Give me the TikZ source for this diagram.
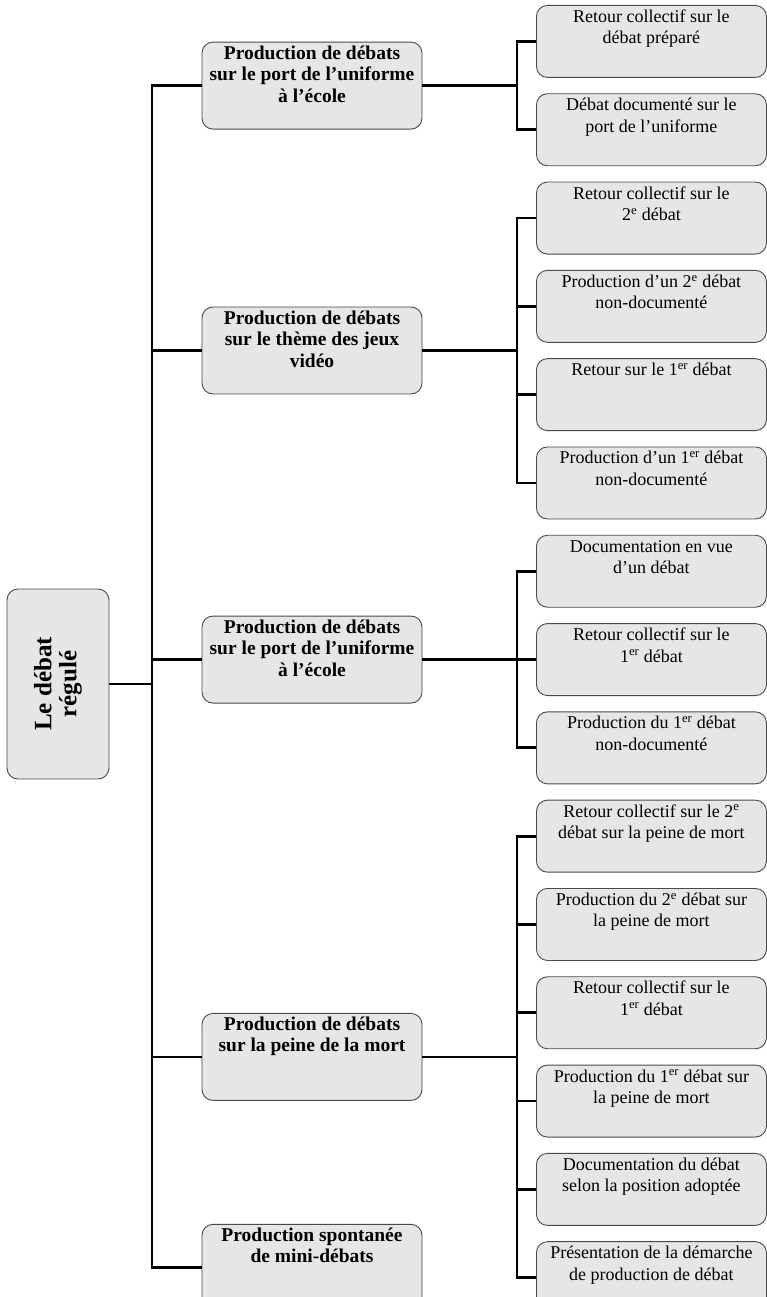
\documentclass[tikz,border=0pt]{standalone}
\usepackage{fontspec}
\setmainfont{Liberation Serif}
\usepackage{xcolor}
\definecolor{boxFill}{HTML}{E6E6E6}
\definecolor{boxEdge}{HTML}{4A4A4A}
\usetikzlibrary{positioning, calc}

% fixed-size text block, lines starting at the top
\newcommand{\topstack}[4]{\parbox[c][#1][t]{#2}{\centering\rule{0pt}{#3}#4}}
\newcommand{\subtext}[1]{\topstack{72pt}{230pt}{17pt}{#1}}
\newcommand{\themetext}[1]{\topstack{87pt}{220pt}{17pt}{#1}}

\begin{document}
\begin{tikzpicture}[
    x=1pt, y=1pt,
    node distance=15.4pt,
    subbox/.style={draw=boxEdge, fill=boxFill, rectangle, rounded corners=11pt, line width=0.9pt, inner sep=0pt, font=\fontsize{18}{21.5}\selectfont},
    themebox/.style={draw=boxEdge, fill=boxFill, rectangle, rounded corners=11pt, line width=0.9pt, inner sep=0pt, font=\bfseries\fontsize{19.5}{21.5}\selectfont},
    rootbox/.style={draw=boxEdge, fill=boxFill, rectangle, rounded corners=11pt, line width=0.9pt, rotate=90, align=center, minimum width=190pt, minimum height=102pt, font=\bfseries\fontsize{25}{25}\selectfont},
    link/.style={line width=2.8pt, draw=black}
]
\useasboundingbox (0,0) rectangle (767,-1297);

\coordinate (trunk) at (152,0);
\coordinate (brk) at (517,0);
\coordinate (col) at (312,0);

% right column: activities
\node (uni-a) [subbox, anchor=north west] at (536,-5) {\subtext{Retour collectif sur le\\débat préparé}};
\node (uni-b) [subbox, below=of uni-a] {\subtext{Débat documenté sur le\\port de l’uniforme}};

\node (jeu-a) [subbox, below=of uni-b] {\subtext{Retour collectif sur le\\2\textsuperscript{e} débat}};
\node (jeu-b) [subbox, below=of jeu-a] {\subtext{Production d’un 2\textsuperscript{e} débat\\non-documenté}};
\node (jeu-c) [subbox, below=of jeu-b] {\subtext{Retour sur le 1\textsuperscript{er} débat}};
\node (jeu-d) [subbox, below=of jeu-c] {\subtext{Production d’un 1\textsuperscript{er} débat\\non-documenté}};

\node (doc-a) [subbox, below=of jeu-d] {\subtext{Documentation en vue\\d’un débat}};
\node (doc-b) [subbox, below=of doc-a] {\subtext{Retour collectif sur le\\1\textsuperscript{er} débat}};
\node (doc-c) [subbox, below=of doc-b] {\subtext{Production du 1\textsuperscript{er} débat\\non-documenté}};

\node (mort-a) [subbox, below=of doc-c] {\subtext{Retour collectif sur le 2\textsuperscript{e}\\débat sur la peine de mort}};
\node (mort-b) [subbox, below=of mort-a] {\subtext{Production du 2\textsuperscript{e} débat sur\\la peine de mort}};
\node (mort-c) [subbox, below=of mort-b] {\subtext{Retour collectif sur le\\1\textsuperscript{er} débat}};
\node (mort-d) [subbox, below=of mort-c] {\subtext{Production du 1\textsuperscript{er} débat sur\\la peine de mort}};
\node (mort-e) [subbox, below=of mort-d] {\subtext{Documentation du débat\\selon la position adoptée}};
\node (mort-f) [subbox, below=of mort-e] {\subtext{Présentation de la démarche\\de production de débat}};

% middle column: themes, centred on their activities
\coordinate (m-uni) at ($(uni-a.west)!0.5!(uni-b.west)$);
\coordinate (m-jeu) at ($(jeu-a.west)!0.5!(jeu-d.west)$);
\coordinate (m-doc) at ($(doc-a.west)!0.5!(doc-c.west)$);
\coordinate (m-mort) at ($(mort-a.west)!0.5!(mort-f.west)$);

\node (th-uni) [themebox] at (m-uni -| col) {\themetext{Production de débats\\sur le port de l’uniforme\\à l’école}};
\node (th-jeu) [themebox] at (m-jeu -| col) {\themetext{Production de débats\\sur le thème des jeux\\vidéo}};
\node (th-doc) [themebox] at (m-doc -| col) {\themetext{Production de débats\\sur le port de l’uniforme\\à l’école}};
\node (th-mort) [themebox] at (m-mort -| col) {\themetext{Production de débats\\sur la peine de la mort}};
\node (th-mini) [themebox, below=123pt of th-mort] {\themetext{Production spontanée\\de mini-débats}};

% left column
\node (root) [rootbox] at (58,-684) {Le débat\\régulé};

% trunk
\draw [link] (root.south) -- (root.south -| trunk);
\draw [link] (th-uni.west) -- (th-uni.west -| trunk) -- (th-mini.west -| trunk) -- (th-mini.west);
\foreach \t in {th-jeu, th-doc, th-mort}
    \draw [link] (\t.west -| trunk) -- (\t.west);

% brackets
\draw [link] (uni-a.west) -- (uni-a.west -| brk) -- (uni-b.west -| brk) -- (uni-b.west);
\draw [link] (jeu-a.west) -- (jeu-a.west -| brk) -- (jeu-d.west -| brk) -- (jeu-d.west);
\draw [link] (doc-a.west) -- (doc-a.west -| brk) -- (doc-c.west -| brk) -- (doc-c.west);
\draw [link] (mort-a.west) -- (mort-a.west -| brk) -- (mort-f.west -| brk) -- (mort-f.west);
\foreach \s in {jeu-b, jeu-c, doc-b, mort-b, mort-c, mort-d, mort-e}
    \draw [link] (\s.west -| brk) -- (\s.west);

\foreach \t in {th-uni, th-jeu, th-doc, th-mort}
    \draw [link] (\t.east) -- (\t.east -| brk);

\end{tikzpicture}
\end{document}
